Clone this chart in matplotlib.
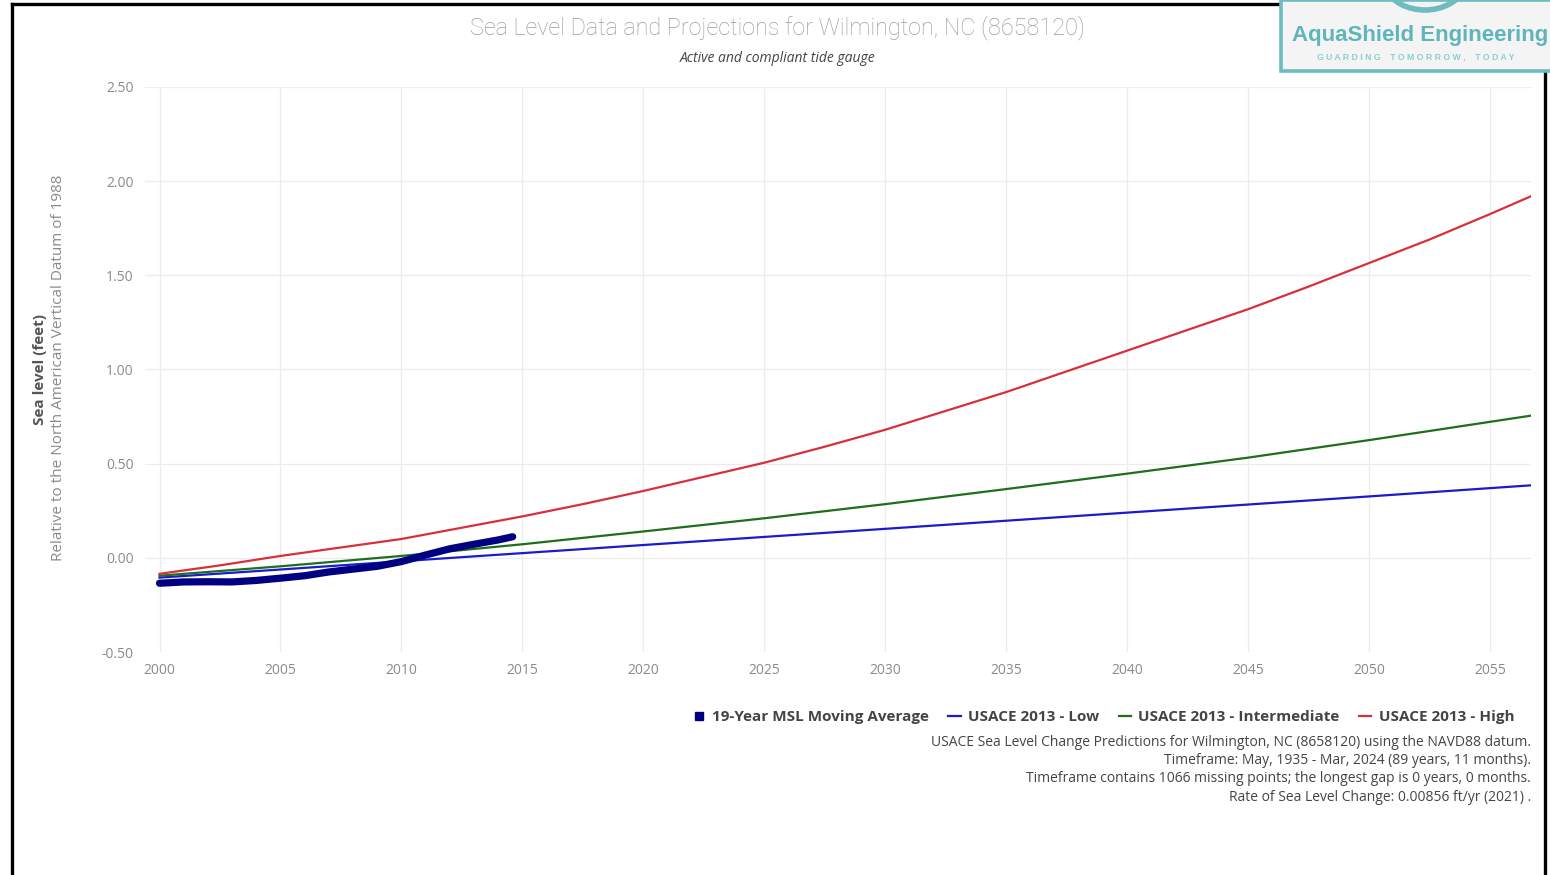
import matplotlib
matplotlib.use("Agg")
import matplotlib.pyplot as plt
from matplotlib.lines import Line2D
from matplotlib.patches import Rectangle, Arc

# ---- data (feet, relative to NAVD88) ----
proj_years = [2000, 2005, 2010, 2015, 2020, 2025, 2030, 2035, 2040, 2045, 2050, 2056.7]
usace_low = [-0.105, -0.062, -0.018, 0.025, 0.068, 0.111, 0.154, 0.197, 0.240, 0.283, 0.326, 0.385]
usace_int = [-0.095, -0.045, 0.010, 0.072, 0.140, 0.210, 0.285, 0.365, 0.447, 0.532, 0.625, 0.755]

high_years = [2000, 2002.5, 2005, 2007.5, 2010, 2012.5, 2015, 2017.5, 2020, 2022.5, 2025,
              2027.5, 2030, 2032.5, 2035, 2037.5, 2040, 2042.5, 2045, 2047.5, 2050,
              2052.5, 2055, 2056.7]
usace_high = [-0.085, -0.040, 0.010, 0.055, 0.100, 0.160, 0.220, 0.285, 0.355, 0.430, 0.505,
              0.590, 0.680, 0.780, 0.880, 0.990, 1.100, 1.210, 1.320, 1.440, 1.565,
              1.690, 1.825, 1.920]

msl_years = [2000, 2001, 2002, 2003, 2004, 2005, 2006, 2007, 2008, 2009, 2010, 2011, 2012, 2013, 2014, 2014.6]
msl_avg = [-0.135, -0.128, -0.127, -0.128, -0.120, -0.108, -0.095, -0.075, -0.060, -0.045, -0.020, 0.015, 0.048, 0.072, 0.095, 0.112]

x_ticks = [2000, 2005, 2010, 2015, 2020, 2025, 2030, 2035, 2040, 2045, 2050, 2055]
y_ticks = [-0.5, 0.0, 0.5, 1.0, 1.5, 2.0, 2.5]

title = "Sea Level Data and Projections for Wilmington, NC (8658120)"
subtitle = "Active and compliant tide gauge"
notes = [
    "USACE Sea Level Change Predictions for Wilmington, NC (8658120) using the NAVD88 datum.",
    "Timeframe: May, 1935 - Mar, 2024 (89 years, 11 months).",
    "Timeframe contains 1066 missing points; the longest gap is 0 years, 0 months.",
    "Rate of Sea Level Change: 0.00856 ft/yr (2021) .",
]

W, H = 1550, 875
fig = plt.figure(figsize=(W / 100, H / 100), dpi=100)
fig.patch.set_facecolor("white")

def fx(px):
    return px / W

def fy(py):
    return 1 - py / H

ax = fig.add_axes([fx(145), fy(652), fx(1531) - fx(145), fy(87) - fy(652)])
ax.set_xlim(1999.4, 2056.7)
ax.set_ylim(-0.5, 2.5)
for s in ax.spines.values():
    s.set_visible(False)
ax.set_xticks(x_ticks)
ax.set_yticks(y_ticks)
ax.set_yticklabels([f"{v:.2f}" for v in y_ticks])
ax.tick_params(length=0, colors="#8a8a8a", labelsize=10, pad=8)
for lab in ax.get_xticklabels() + ax.get_yticklabels():
    lab.set_family("Open Sans")
ax.grid(True, color="#ececec", linewidth=0.9)
ax.set_axisbelow(True)

c_low, c_int, c_high, c_msl = "#1a1ad0", "#1d6e1d", "#d8303a", "#000080"
ax.plot(proj_years, usace_low, color=c_low, lw=1.6, label="USACE 2013 - Low", zorder=3)
ax.plot(proj_years, usace_int, color=c_int, lw=1.6, label="USACE 2013 - Intermediate", zorder=3)
ax.plot(high_years, usace_high, color=c_high, lw=1.6, label="USACE 2013 - High", zorder=3)
ax.plot(msl_years, msl_avg, color=c_msl, lw=5.2, solid_capstyle="round",
        label="19-Year MSL Moving Average", zorder=4)

handles = [
    Line2D([], [], color=c_msl, marker="s", markersize=6, linestyle="none"),
    Line2D([], [], color=c_low, lw=1.6),
    Line2D([], [], color=c_int, lw=1.6),
    Line2D([], [], color=c_high, lw=1.6),
]
labels = ["19-Year MSL Moving Average", "USACE 2013 - Low",
          "USACE 2013 - Intermediate", "USACE 2013 - High"]
leg = fig.legend(handles, labels, ncol=4, frameon=False, loc="center right",
                 bbox_to_anchor=(fx(1528), fy(717)), handlelength=0.8,
                 handletextpad=0.5, columnspacing=1.25,
                 prop={"family": "Open Sans", "weight": "bold", "size": 11})
for t in leg.get_texts():
    t.set_color("#444444")

for i, line in enumerate(notes):
    fig.text(fx(1531), fy(742 + i * 18.5), line, ha="right", va="center",
             fontsize=10, family="Open Sans", color="#444444")

fig.text(fx(778), fy(28), title, ha="center", va="center", fontsize=16.8,
         family="Roboto", fontweight="light", color="#9c9c9c")
fig.text(fx(778), fy(58), subtitle, ha="center", va="center", fontsize=10,
         family="Open Sans", style="italic", color="#444444")

fig.text(fx(40), fy(370), "Sea level (feet)", rotation=90, ha="center", va="center",
         fontsize=11, family="Open Sans", fontweight="bold", color="#555555")
fig.text(fx(59), fy(368), "Relative to the North American Vertical Datum of 1988",
         rotation=90, ha="center", va="center", fontsize=11, family="Open Sans",
         color="#8a8a8a")

# outer frame
frame_kw = dict(color="black", lw=2.4, transform=fig.transFigure, solid_capstyle="projecting")
fig.add_artist(Line2D([fx(12), fx(12)], [fy(4), 0], **frame_kw))
fig.add_artist(Line2D([fx(12), fx(1282)], [fy(4), fy(4)], **frame_kw))
fig.add_artist(Line2D([fx(1545), fx(1545)], [fy(70), 0], **frame_kw))

# logo badge
teal = "#6cbcc0"
fig.add_artist(Rectangle((fx(1281), fy(71)), fx(1560) - fx(1281), fy(0) - fy(71),
                         transform=fig.transFigure, facecolor="#f4f4f4",
                         edgecolor=teal, lw=2.6, zorder=5))
fig.add_artist(Arc((fx(1425), fy(-22)), fx(84), 64 / H, theta1=205, theta2=335,
                   transform=fig.transFigure, color=teal, lw=4, zorder=6))
fig.text(fx(1292), fy(35), "AquaShield Engineering", ha="left", va="center",
         fontsize=16, fontweight="bold", family="Liberation Sans", color="#5fb5ba", zorder=7)
fig.text(fx(1317), fy(57), "G U A R D I N G    T O M O R R O W ,    T O D A Y",
         ha="left", va="center", fontsize=6.3, fontweight="bold", family="Liberation Sans",
         color="#8ccfd2", zorder=7)

fig.savefig("out.png", dpi=100, facecolor="white")
